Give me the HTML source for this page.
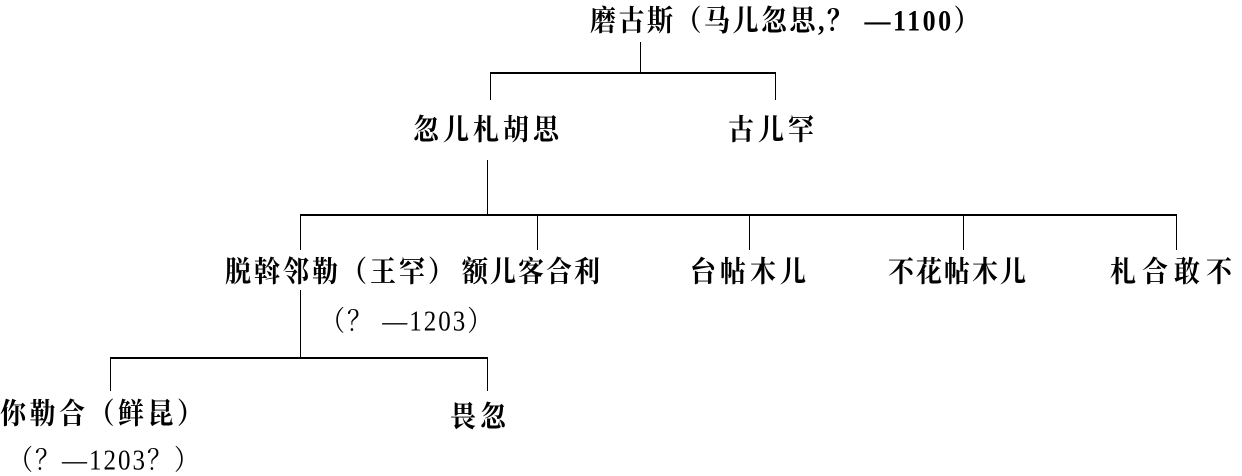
<!DOCTYPE html>
<html><head><meta charset="utf-8"><style>
body{margin:0;background:#fff;width:1242px;height:475px;position:relative;overflow:hidden;font-family:"Liberation Serif","Noto Serif CJK SC","Noto Sans CJK SC",serif;color:#000}
.t{position:absolute;white-space:nowrap;font-size:26px;font-weight:bold;line-height:1;transform:scaleY(1.12);transform-origin:top left}
.l{position:absolute;background:#000}
</style></head><body>
<div class="t" style="left:590px;top:7px;letter-spacing:2.5px">磨古斯（马儿忽思,？ —1100）</div>
<div class="l" style="left:640px;top:42px;width:1px;height:31px"></div>
<div class="l" style="left:490px;top:72px;width:286px;height:2px"></div>
<div class="l" style="left:490px;top:72px;width:1px;height:28px"></div>
<div class="l" style="left:775px;top:72px;width:1px;height:28px"></div>
<div class="t" style="left:413px;top:116px;letter-spacing:4px">忽儿札胡思</div>
<div class="t" style="left:728px;top:116px;letter-spacing:4px">古儿罕</div>
<div class="l" style="left:487px;top:160px;width:1px;height:56px"></div>
<div class="l" style="left:300px;top:214px;width:877px;height:2px"></div>
<div class="l" style="left:300px;top:214px;width:1px;height:36px"></div>
<div class="l" style="left:537px;top:214px;width:1px;height:36px"></div>
<div class="l" style="left:749px;top:214px;width:1px;height:36px"></div>
<div class="l" style="left:963px;top:214px;width:1px;height:36px"></div>
<div class="l" style="left:1176px;top:214px;width:1px;height:36px"></div>
<div class="t" style="left:225px;top:258px;letter-spacing:3px">脱斡邻勒（王罕）</div>
<div class="t" style="left:462px;top:258px;letter-spacing:2px">额儿客合利</div>
<div class="t" style="left:690px;top:258px;letter-spacing:4px">台帖木儿</div>
<div class="t" style="left:888px;top:258px;letter-spacing:2px">不花帖木儿</div>
<div class="t" style="left:1110px;top:258px;letter-spacing:6px">札合敢不</div>
<div class="l" style="left:300px;top:290px;width:1px;height:68px"></div>
<div class="t" style="left:320px;top:308px;font-size:25px;font-weight:normal;letter-spacing:2px">（？ —1203）</div>
<div class="l" style="left:110px;top:357px;width:377px;height:2px"></div>
<div class="l" style="left:110px;top:357px;width:1px;height:34px"></div>
<div class="l" style="left:487px;top:357px;width:1px;height:34px"></div>
<div class="t" style="left:0px;top:400px;letter-spacing:3.5px">你勒合（鲜昆）</div>
<div class="t" style="left:450px;top:403px;letter-spacing:4px">畏忽</div>
<div class="t" style="left:8px;top:447px;font-size:25px;font-weight:normal;letter-spacing:2px">（？—1203？）</div>
</body></html>
